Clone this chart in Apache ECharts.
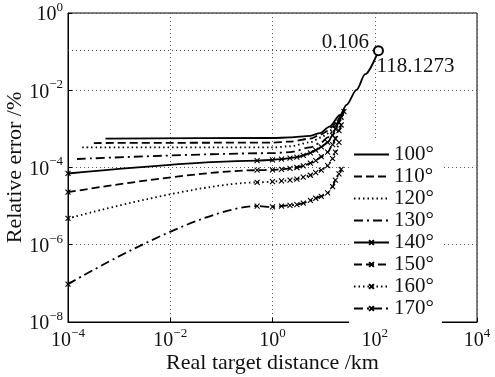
<!DOCTYPE html>
<html>
<head>
<meta charset="utf-8">
<script src="https://cdn.jsdelivr.net/npm/echarts@6/dist/echarts.min.js"></script>
<style>
  html, body { margin: 0; padding: 0; background: #fff; }
  #chart { width: 495px; height: 377px; }
</style>
</head>
<body>
<div id="chart"></div>
<script>
// angles shown in the legend
const angles = ['100°', '110°', '120°', '130°', '140°', '150°', '160°', '170°'];

// real target distance (km) / relative error (%) for each angle
const dist100 = [5.4e-4, 1, 2.2, 5.5, 8.5, 13, 21, 28, 44, 65, 118.1273];
const err100  = [5.6e-4, 5.8e-4, 6.0e-4, 6.6e-4, 7.8e-4, 1.15e-3, 2.3e-3, 4.2e-3, 0.0102, 0.026, 0.106];

const dist110 = [3.2e-4, 1, 2.2, 5.5, 9, 12, 15, 17, 20, 22, 26];
const err110  = [4.3e-4, 4.4e-4, 4.7e-4, 5.6e-4, 7.2e-4, 8.9e-4, 1.15e-3, 1.45e-3, 1.9e-3, 2.3e-3, 3.3e-3];

const dist120 = [1.9e-4, 1, 2.2, 5.5, 9, 12, 15, 17, 20, 22, 26];
const err120  = [3.3e-4, 3.3e-4, 3.55e-4, 4.5e-4, 6.0e-4, 7.6e-4, 1.0e-3, 1.3e-3, 1.8e-3, 2.2e-3, 3.2e-3];

const dist130 = [1.5e-4, 1, 2.2, 5.5, 9, 12, 15, 17, 20, 22, 26];
const err130  = [1.66e-4, 2.35e-4, 2.5e-4, 3.3e-4, 4.5e-4, 6.0e-4, 8.5e-4, 1.2e-3, 1.65e-3, 2.1e-3, 3.2e-3];

const dist140 = [1e-4, 0.5, 1, 1.5, 2.2, 3, 4, 5.5, 7, 9, 12, 15, 17, 20, 22, 25];
const err140  = [7e-5, 1.5e-4, 1.58e-4, 1.65e-4, 1.75e-4, 1.85e-4, 2.05e-4, 2.4e-4, 2.8e-4, 3.4e-4, 4.5e-4, 6.8e-4, 1.0e-3, 1.5e-3, 2.0e-3, 2.8e-3];

const dist150 = [1e-4, 0.5, 1, 1.5, 2.2, 3, 4, 5.5, 7, 9, 12, 15, 17, 20, 22];
const err150  = [2.3e-5, 8.5e-5, 8.7e-5, 9.0e-5, 9.5e-5, 1.0e-4, 1.1e-4, 1.3e-4, 1.5e-4, 1.9e-4, 2.5e-4, 3.9e-4, 5.6e-4, 9.0e-4, 1.26e-3];

const dist160 = [1e-4, 0.5, 1, 1.5, 2.2, 3, 4, 5.5, 7, 9, 12, 15, 17, 20];
const err160  = [4.8e-6, 4.1e-5, 4.3e-5, 4.5e-5, 4.7e-5, 5.0e-5, 5.6e-5, 6.3e-5, 7.4e-5, 8.5e-5, 1.12e-4, 1.7e-4, 2.5e-4, 4.5e-4];

const dist170 = [1e-4, 0.5, 1, 1.5, 2.2, 3, 4, 5.5, 7, 9, 12, 15, 17, 20, 22];
const err170  = [9.5e-8, 1.0e-5, 9.5e-6, 1.0e-5, 1.05e-5, 1.1e-5, 1.2e-5, 1.4e-5, 1.6e-5, 1.8e-5, 2.2e-5, 3.2e-5, 4.7e-5, 6.8e-5, 8.9e-5];

// the marked end point
const peakDist = 118.1273;
const peakErr = 0.106;

const SERIF = '"Liberation Serif", "Times New Roman", serif';
const CROSS = 'path://M0,0L10,10M10,0L0,10';

const pairs = (xs, ys) => xs.map((x, i) => [x, ys[i]]);

const styles = [
  { d: dist100, e: err100, dash: 'solid',        mark: false },
  { d: dist110, e: err110, dash: [8, 4],         mark: false },
  { d: dist120, e: err120, dash: [1.5, 3],       mark: false },
  { d: dist130, e: err130, dash: [9, 4, 2, 4],   mark: false },
  { d: dist140, e: err140, dash: 'solid',        mark: true },
  { d: dist150, e: err150, dash: [8, 4],         mark: true },
  { d: dist160, e: err160, dash: [1.5, 3],       mark: true },
  { d: dist170, e: err170, dash: [9, 4, 2, 4],   mark: true }
];

const supLabel = (value) => {
  const p = Math.round(Math.log10(value));
  const s = p < 0 ? '\u2212' + Math.abs(p) : String(p);
  return '{b|10}{s|' + s + '}';
};
const richTick = {
  b: { fontFamily: SERIF, fontSize: 20, color: '#111', lineHeight: 24, verticalAlign: 'bottom' },
  s: { fontFamily: SERIF, fontSize: 13, color: '#111', lineHeight: 13, verticalAlign: 'top' }
};

const series = styles.map((st, i) => {
  const s = {
    name: angles[i],
    type: 'line',
    data: pairs(st.d, st.e),
    smooth: 0.3,
    smoothMonotone: 'x',
    // the cross path is also used (stroke-less) for the plain lines so the legend shows no dot
    symbol: CROSS,
    symbolSize: 5,
    showSymbol: st.mark,
    showAllSymbol: true,
    itemStyle: { color: '#000', borderColor: '#000', borderWidth: st.mark ? 1.1 : 0 },
    lineStyle: { color: '#000', width: 1.8, type: st.dash },
    z: 3
  };
  if (i === 0) {
    s.markLine = {
      silent: true,
      symbol: ['none', 'none'],
      label: { show: false },
      lineStyle: { color: '#444', width: 1, type: [1, 3] },
      data: [[{ coord: [1e-4, peakErr] }, { coord: [peakDist, peakErr] }]]
    };
    s.markPoint = {
      silent: true,
      data: [
        {
          coord: [peakDist, peakErr], symbol: 'emptyCircle', symbolSize: 9,
          itemStyle: { color: '#000', borderColor: '#000', borderWidth: 1.2 },
          label: { show: true, formatter: '0.106', position: 'left', distance: 4, offset: [0, -8],
                   fontFamily: SERIF, fontSize: 21, color: '#111' }
        },
        {
          coord: [peakDist, peakErr], symbol: 'circle', symbolSize: 0,
          label: { show: true, formatter: '118.1273', position: 'right', distance: 0, offset: [-2, 16],
                   fontFamily: SERIF, fontSize: 21, color: '#111' }
        }
      ]
    };
  }
  return s;
});

const chart = echarts.init(document.getElementById('chart'));
chart.setOption({
  animation: false,
  backgroundColor: '#fff',
  grid: {
    left: 68, right: 18, top: 13, bottom: 55,
    outerBoundsMode: 'none', containLabel: false,
    show: true, borderColor: '#000', borderWidth: 1, backgroundColor: 'transparent'
  },
  legend: {
    data: angles,
    orient: 'vertical',
    left: 349,
    top: 139,
    padding: [5, 8, 5, 4],
    backgroundColor: '#fff',
    itemWidth: 35,
    itemHeight: 6,
    itemGap: 1,
    textStyle: { fontFamily: SERIF, fontSize: 21, color: '#111', lineHeight: 20 },
    z: 2
  },
  xAxis: {
    type: 'log',
    logBase: 10,
    min: 1e-4,
    max: 1e4,
    interval: 2,
    name: 'Real target distance /km',
    nameLocation: 'middle',
    nameGap: 30,
    nameMoveOverlap: false,
    nameTextStyle: { fontFamily: SERIF, fontSize: 22, color: '#111' },
    axisLine: { lineStyle: { color: '#000', width: 1 } },
    axisTick: { inside: true, length: 4, lineStyle: { color: '#000' } },
    axisLabel: { formatter: supLabel, rich: richTick, margin: 5 },
    splitLine: { show: true, lineStyle: { color: '#555', width: 1, type: [1, 3] } },
    minorTick: { show: false }
  },
  yAxis: {
    type: 'log',
    logBase: 10,
    min: 1e-8,
    max: 1,
    interval: 2,
    name: 'Relative error /%',
    nameLocation: 'middle',
    nameGap: 42,
    nameMoveOverlap: false,
    nameTextStyle: { fontFamily: SERIF, fontSize: 22, color: '#111' },
    axisLine: { lineStyle: { color: '#000', width: 1 } },
    axisTick: { inside: true, length: 4, lineStyle: { color: '#000' } },
    axisLabel: { formatter: supLabel, rich: richTick, margin: 5 },
    splitLine: { show: true, lineStyle: { color: '#555', width: 1, type: [1, 3] } }
  },
  series: series
});
</script>
</body>
</html>
